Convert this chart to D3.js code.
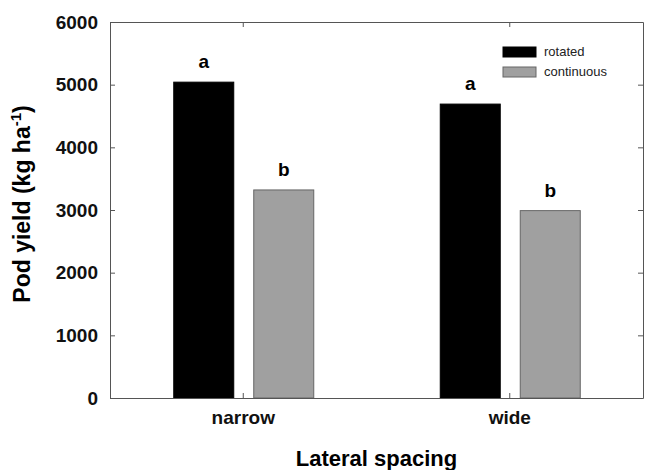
<!DOCTYPE html>
<html>
<head>
<meta charset="utf-8">
<script src="https://cdn.jsdelivr.net/npm/d3@7"></script>
<style>
  body { margin: 0; background: #fff; }
  svg { font-family: "Liberation Sans", Arial, Helvetica, sans-serif; }
  .axis path, .axis line { stroke: #555; }
  .axis text { font-weight: bold; font-size: 19px; fill: #111; }
</style>
</head>
<body>
<div id="chart"></div>
<script>
const spacings = ["narrow", "wide"];
const systems = ["rotated", "continuous"];
const rotatedYield = [5040, 4690];
const continuousYield = [3320, 2990];
const letters = { rotated: ["a", "a"], continuous: ["b", "b"] };
const yTicks = [0, 1000, 2000, 3000, 4000, 5000, 6000];

const colours = { rotated: "#000", continuous: "#a0a0a0" };
const strokes = { rotated: "#000", continuous: "#666" };

const width = 646,
  height = 470,
  margin = { top: 22, right: 3, bottom: 72, left: 110 },
  chartWidth = width - margin.left - margin.right,
  chartHeight = height - margin.top - margin.bottom;

const rows = spacings.map((s, i) => ({
  spacing: s,
  rotated: rotatedYield[i],
  continuous: continuousYield[i]
}));

const xScale = d3.scaleBand().domain(spacings).range([0, chartWidth]).padding(0);

// offset of each bar from the category centre
const subScale = d3
  .scaleOrdinal()
  .domain(systems)
  .range([-70, 10]);
const barWidth = 61;

const yScale = d3.scaleLinear().domain([0, 6000]).range([chartHeight, 0]);

const svg = d3
  .select("#chart")
  .append("svg")
  .attr("width", width)
  .attr("height", height);

const chart = svg
  .append("g")
  .attr("transform", `translate(${margin.left}, ${margin.top})`);

// bars
const group = chart
  .selectAll(".group")
  .data(rows)
  .enter()
  .append("g")
  .attr("class", "group")
  .attr("transform", d => `translate(${xScale(d.spacing) + xScale.bandwidth() / 2}, 0)`);

const cells = d => systems.map(k => ({ key: k, value: d[k], i: spacings.indexOf(d.spacing) }));

group
  .selectAll("rect")
  .data(cells)
  .enter()
  .append("rect")
  .attr("x", d => subScale(d.key) + 0.5)
  .attr("y", d => yScale(d.value))
  .attr("width", barWidth - 1)
  .attr("height", d => chartHeight - yScale(d.value))
  .attr("fill", d => colours[d.key])
  .attr("stroke", d => strokes[d.key])
  .attr("stroke-width", 1);

group
  .selectAll(".sig")
  .data(cells)
  .enter()
  .append("text")
  .attr("class", "sig")
  .attr("x", d => subScale(d.key) + barWidth / 2)
  .attr("y", d => yScale(d.value) - 14)
  .attr("text-anchor", "middle")
  .style("font-weight", "bold")
  .style("font-size", "19px")
  .text(d => letters[d.key][d.i]);

// axes (ticks point inward)
chart
  .append("g")
  .attr("class", "y axis")
  .call(
    d3.axisLeft(yScale)
      .tickValues(yTicks)
      .tickFormat(d3.format("d"))
      .tickSizeInner(-5)
      .tickSizeOuter(0)
      .tickPadding(12)
  );

chart
  .append("g")
  .attr("class", "y axis")
  .attr("transform", `translate(${chartWidth}, 0)`)
  .call(d3.axisRight(yScale).tickValues(yTicks).tickSizeInner(-5).tickSizeOuter(0).tickFormat(""));

chart
  .append("g")
  .attr("class", "x axis")
  .attr("transform", `translate(0, ${chartHeight})`)
  .call(d3.axisBottom(xScale).tickSizeInner(-5).tickSizeOuter(0).tickPadding(13));

chart
  .append("g")
  .attr("class", "x axis")
  .call(d3.axisTop(xScale).tickSizeInner(-5).tickSizeOuter(0).tickFormat(""));

// axis titles
chart
  .append("text")
  .attr("transform", `translate(${-80}, ${chartHeight / 2 - 6}) rotate(-90)`)
  .attr("text-anchor", "middle")
  .style("font-weight", "bold")
  .style("font-size", "23px")
  .html('Pod yield (kg ha<tspan dy="-9" font-size="15px">-1</tspan><tspan dy="9">)</tspan>');

chart
  .append("text")
  .attr("x", chartWidth / 2)
  .attr("y", chartHeight + 68)
  .attr("text-anchor", "middle")
  .style("font-weight", "bold")
  .style("font-size", "22px")
  .text("Lateral spacing");

// legend
const legend = chart
  .append("g")
  .attr("transform", `translate(${393}, ${25})`)
  .selectAll("g")
  .data(systems)
  .enter()
  .append("g")
  .attr("transform", (d, i) => `translate(0, ${i * 20})`);

legend
  .append("rect")
  .attr("width", 33)
  .attr("height", 10)
  .attr("fill", d => colours[d])
  .attr("stroke", d => strokes[d]);

legend
  .append("text")
  .attr("x", 41)
  .attr("y", 9)
  .style("font-size", "13px")
  .style("fill", "#222")
  .text(d => d);
</script>
</body>
</html>
